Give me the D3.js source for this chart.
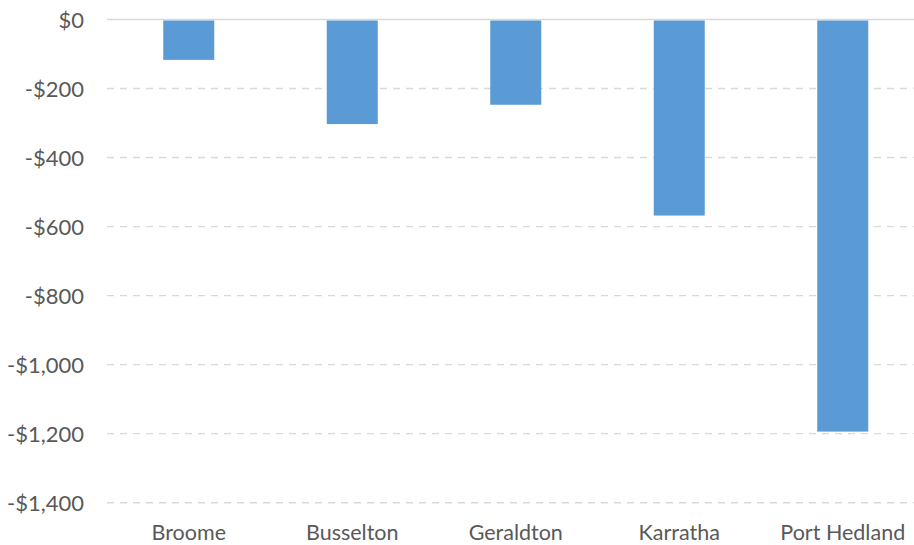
<!DOCTYPE html>
<html>
<head>
<meta charset="utf-8">
<script src="https://cdn.jsdelivr.net/npm/d3@7"></script>
<style>
  html, body { margin: 0; padding: 0; background: #fff; }
  svg { display: block; }
  .tick text { font-family: Lato, "Open Sans", sans-serif; fill: #595959; }
</style>
</head>
<body>
<svg id="chart" width="914" height="545"></svg>
<script>
// Towns and the change in dollars for each
const towns = ["Broome", "Busselton", "Geraldton", "Karratha", "Port Hedland"];
const changes = [-117, -303, -247, -568, -1194];
const yTicks = [0, -200, -400, -600, -800, -1000, -1200, -1400];

const svg = d3.select("#chart");
const plot = { left: 107, right: 924.5, top: 19.5, bottom: 502.7 };

const x = d3.scaleBand()
  .domain(towns)
  .range([plot.left, plot.right])
  .paddingInner(0.688)
  .paddingOuter(0.344);

const y = d3.scaleLinear()
  .domain([0, -1400])
  .range([plot.top, plot.bottom]);

const fmt = v => (v < 0 ? "-$" : "$") + d3.format(",")(Math.abs(v));

// Horizontal gridlines: dashed below zero, solid at zero
const grid = svg.append("g");
grid.selectAll("line")
  .data(yTicks)
  .join("line")
  .attr("x1", plot.left)
  .attr("x2", plot.right)
  .attr("y1", d => y(d))
  .attr("y2", d => y(d))
  .attr("stroke", "#d9d9d9")
  .attr("stroke-width", d => d === 0 ? 1.6 : 1.4)
  .attr("stroke-dasharray", d => d === 0 ? null : "7,6");

// Bars hang down from the zero line
svg.append("g")
  .selectAll("rect")
  .data(towns.map((t, i) => ({ town: t, value: changes[i] })))
  .join("rect")
  .attr("x", d => x(d.town))
  .attr("width", x.bandwidth())
  .attr("y", d => y(0) + 1)
  .attr("height", d => y(d.value) - y(0) - 1)
  .attr("fill", "#5b9bd5");

// Value axis
const yAxis = svg.append("g")
  .attr("transform", `translate(${plot.left},0)`)
  .call(d3.axisLeft(y).tickValues(yTicks).tickFormat(fmt).tickSize(0).tickPadding(23));
yAxis.select(".domain").remove();
yAxis.selectAll(".tick text").attr("font-size", 22).attr("dy", "0.36em");

// Category axis
const xAxis = svg.append("g")
  .attr("transform", `translate(0,${plot.bottom})`)
  .call(d3.axisBottom(x).tickSize(0).tickPadding(22));
xAxis.select(".domain").remove();
xAxis.selectAll(".tick text").attr("font-size", 21.5);
</script>
</body>
</html>
